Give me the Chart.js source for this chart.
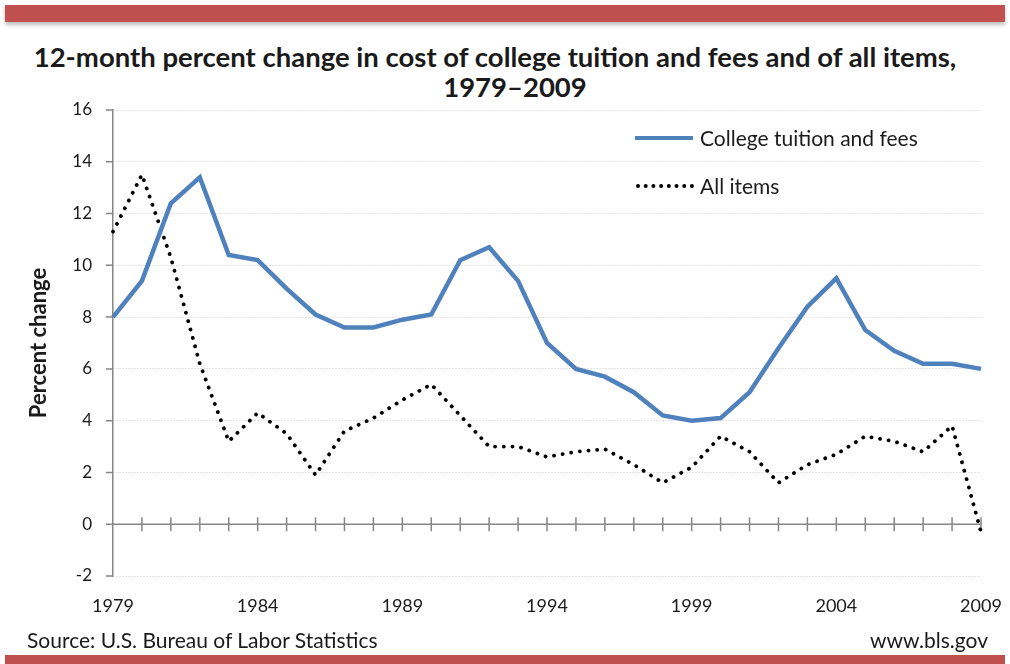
<!DOCTYPE html>
<html>
<head>
<meta charset="utf-8">
<script src="https://cdn.jsdelivr.net/npm/chart.js@4"></script>
<style>
  body { margin: 0; background: #fff; font-family: Lato, "Open Sans", sans-serif; color: #1a1a1a; }
  #wrap { position: relative; width: 1010px; height: 664px; overflow: hidden; }
  #topbar { position: absolute; left: 5px; top: 5px; width: 1000px; height: 17px; background: #c0504d; box-shadow: 0 3px 4px rgba(0,0,0,0.25); }
  #botbar { position: absolute; left: 5px; top: 655px; width: 1000px; height: 12px; background: #c0504d; }
  .title { position: absolute; width: 1010px; text-align: center; font-weight: bold; font-size: 27.5px; line-height: 30px; }
  .foot { position: absolute; top: 628px; font-size: 21px; line-height: 24px; }
  .leg { position: absolute; font-size: 21px; line-height: 24px; }
  .sample { position: absolute; width: 58px; }
  canvas { position: absolute; left: 0; top: 0; }
</style>
</head>
<body>
<div id="wrap">
  <div id="topbar"></div>
  <div class="title" style="left:-10px; top:42px;">12-month percent change in cost of college tuition and fees and of all items,</div>
  <div class="title" style="left:10px; top:72px;">1979–2009</div>
  <canvas id="chart" width="1010" height="664"></canvas>
  <div class="sample" style="left:635px; top:136px; border-top:4.5px solid #4f81bd;"></div>
  <div class="leg" style="left:700px; top:126px;">College tuition and fees</div>
  <div class="sample" style="left:636px; top:184px; border-top:4px dotted #000;"></div>
  <div class="leg" style="left:700px; top:174px;">All items</div>
  <div class="foot" style="left:27px;">Source: U.S. Bureau of Labor Statistics</div>
  <div class="foot" style="right:22px;">www.bls.gov</div>
  <div id="botbar"></div>
</div>
<script>
// years on the x axis
var years = [];
for (var y = 1979; y <= 2009; y++) years.push(String(y));

// college tuition and fees, percent change
var tuition = [8.0, 9.4, 12.4, 13.4, 10.4, 10.2, 9.1, 8.1, 7.6, 7.6,
               7.9, 8.1, 10.2, 10.7, 9.4, 7.0, 6.0, 5.7, 5.1, 4.2,
               4.0, 4.1, 5.1, 6.8, 8.4, 9.5, 7.5, 6.7, 6.2, 6.2, 6.0];

// all items CPI, percent change
var allItems = [11.3, 13.5, 10.3, 6.2, 3.2, 4.3, 3.5, 1.9, 3.6, 4.1,
                4.8, 5.4, 4.2, 3.0, 3.0, 2.6, 2.8, 2.9, 2.3, 1.6,
                2.2, 3.4, 2.8, 1.6, 2.3, 2.7, 3.4, 3.2, 2.8, 3.8, -0.3];

var yTicks = [-2, 0, 2, 4, 6, 8, 10, 12, 14, 16];
var axisGray = '#868686';

// zero line with a tick per year, plus small ticks on the y axis
var axisMarks = {
  id: 'axisMarks',
  beforeDatasetsDraw: function (chart) {
    var ctx = chart.ctx, xs = chart.scales.x, ys = chart.scales.y;
    var a = chart.chartArea;
    var y0 = ys.getPixelForValue(0);
    ctx.save();
    ctx.strokeStyle = axisGray;
    ctx.lineWidth = 1.5;
    ctx.beginPath();
    ctx.moveTo(a.left - 7, y0);
    ctx.lineTo(a.right, y0);
    for (var i = 1; i < years.length; i++) {
      var x = xs.getPixelForValue(i);
      ctx.moveTo(x, y0 - 7);
      ctx.lineTo(x, y0 + 7);
    }
    yTicks.forEach(function (v) {
      var py = ys.getPixelForValue(v);
      ctx.moveTo(a.left - 7, py);
      ctx.lineTo(a.left, py);
    });
    ctx.stroke();
    ctx.restore();
  }
};

new Chart(document.getElementById('chart'), {
  type: 'line',
  data: {
    labels: years,
    datasets: [{
      label: 'College tuition and fees',
      data: tuition,
      borderColor: '#4f81bd',
      borderWidth: 4.5,
      pointRadius: 0,
      tension: 0
    }, {
      label: 'All items',
      data: allItems,
      borderColor: '#000',
      borderWidth: 3.8,
      borderDash: [0.1, 8.6],
      borderCapStyle: 'round',
      pointRadius: 0,
      tension: 0
    }]
  },
  options: {
    responsive: false,
    animation: false,
    layout: { padding: { left: 0, right: 29, top: 110, bottom: 0 } },
    plugins: { legend: { display: false }, tooltip: { enabled: false } },
    scales: {
      x: {
        type: 'category',
        offset: false,
        grid: { display: false, drawTicks: false },
        border: { display: false },
        ticks: {
          autoSkip: false,
          maxRotation: 0,
          padding: 19,
          color: '#1a1a1a',
          font: { family: 'Lato', size: 18 },
          callback: function (v, i) { return (i % 5 === 0) ? years[i] : ''; }
        },
        afterFit: function (s) { s.height = 88; s.paddingLeft = 0; s.paddingRight = 0; }
      },
      y: {
        min: -2,
        max: 16,
        afterBuildTicks: function (s) { s.ticks = yTicks.map(function (v) { return { value: v }; }); },
        grid: { color: '#c8c8c8', lineWidth: 1, drawTicks: false },
        border: { display: true, color: axisGray, width: 1.5, dash: [1, 2] },
        ticks: {
          padding: 21,
          color: '#1a1a1a',
          font: { family: 'Lato', size: 17 }
        },
        title: {
          display: true,
          text: 'Percent change',
          color: '#1a1a1a',
          font: { family: 'Lato', size: 22, weight: 'bold' },
          padding: { top: 26, bottom: 0 }
        },
        afterFit: function (s) { s.width = 113; s.paddingTop = 0; s.paddingBottom = 0; }
      }
    }
  },
  plugins: [axisMarks]
});
</script>
</body>
</html>
